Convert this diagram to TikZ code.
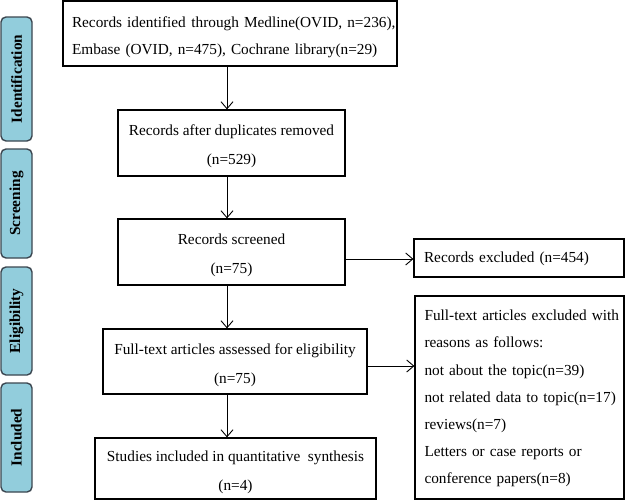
\documentclass[tikz,border=0pt]{standalone}
\usepackage{fontspec}
\setmainfont{Liberation Serif}
\usetikzlibrary{arrows.meta}
\definecolor{barfill}{HTML}{92CDDC}
\definecolor{barline}{HTML}{3B4650}
\newcommand{\topstrut}{\rule{0pt}{17.5pt}}
\begin{document}
\begin{tikzpicture}[x=1pt,y=-1pt,
  box/.style={draw=black, line width=1.2pt, inner sep=0pt, align=center,
    font=\fontsize{15.3}{29}\selectfont},
  lbox/.style={box, align=left, font=\fontsize{15.3}{27.2}\selectfont},
  phase/.style={draw=barline, fill=barfill, line width=1.4pt, rounded corners=5pt,
    inner sep=0pt, rotate=90, font=\fontsize{15.3}{18}\selectfont\bfseries},
  arr/.style={-{Straight Barb[length=7pt,width=12pt]}, line width=0.9pt}]
\useasboundingbox (0,0) rectangle (628,501);

% phase bars
\node[phase, minimum width=124, minimum height=31] (p1) at (16.5,79) {Identification};
\node[phase, minimum width=109, minimum height=31] (p2) at (16.5,203.5) {Screening};
\node[phase, minimum width=108, minimum height=31] (p3) at (16.5,321) {Eligibility};
\node[phase, minimum width=109, minimum height=31] (p4) at (16.5,437.5) {Included};

% main boxes
\node[lbox, minimum width=334, minimum height=65, text width=316] (b1) at (230,33.5)
  {\mbox{\topstrut Records identified\hspace{5.5pt}through Medline(OVID, n=236),}\\
   \mbox{Embase (OVID, n=475), Cochrane library(n=29)}};
\node[box, minimum width=227, minimum height=66] (b2) at (231.5,143)
  {\topstrut Records after duplicates removed\\(n=529)};
\node[box, minimum width=227, minimum height=66] (b3) at (231.5,252)
  {\topstrut Records screened\\(n=75)};
\node[box, minimum width=264, minimum height=65] (b4) at (235,361.5)
  {\topstrut Full-text articles assessed for eligibility\\(n=75)};
\node[box, minimum width=281, minimum height=61] (b5) at (235.5,468.5)
  {\topstrut Studies included in quantitative~~synthesis\\(n=4)};

% side boxes
\node[lbox, minimum width=210, minimum height=38, text width=190] (rex) at (519,258)
  {\mbox{\rule{0pt}{13pt}Records excluded (n=454)}};
\node[lbox, minimum width=209, minimum height=203, text width=190] (full) at (519.5,397.5)
  {\mbox{\rule{0pt}{13pt}Full-text articles excluded with}\\
   \mbox{reasons as follows:}\\
   \mbox{not about the topic(n=39)}\\
   \mbox{not related data to topic(n=17)}\\
   \mbox{reviews(n=7)}\\
   \mbox{Letters or case reports or}\\
   \mbox{conference papers(n=8)}};

% connectors
\coordinate (ax) at (227,0);
\coordinate (h1) at (0,259);
\coordinate (h2) at (0,366);
\draw[arr] (b1.south -| ax) -- (b2.north -| ax);
\draw[arr] (b2.south -| ax) -- (b3.north -| ax);
\draw[arr] (b3.south -| ax) -- (b4.north -| ax);
\draw[arr] (b4.south -| ax) -- (b5.north -| ax);
\draw[arr] (b3.east |- h1) -- (rex.west |- h1);
\draw[arr] (b4.east |- h2) -- (full.west |- h2);
\end{tikzpicture}
\end{document}
